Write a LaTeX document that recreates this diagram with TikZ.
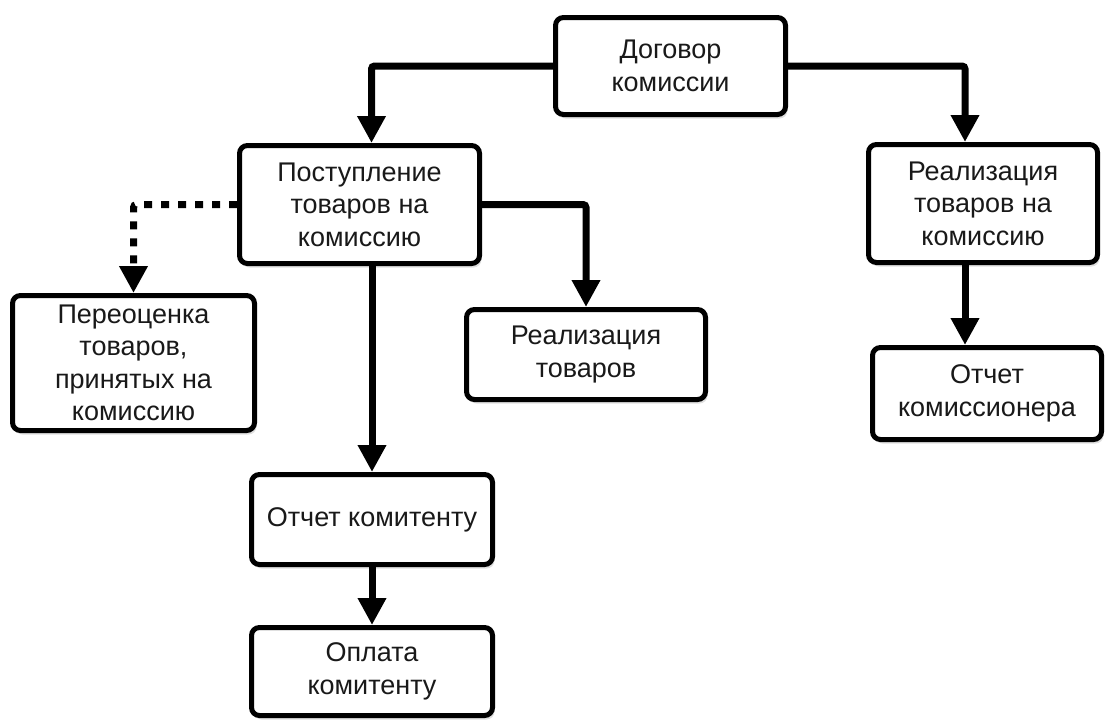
\documentclass[tikz,border=0pt]{standalone}
\usepackage{fontspec}
\setmainfont{Liberation Sans}
\usetikzlibrary{arrows.meta,shadows}

\begin{document}
\begin{tikzpicture}[x=1pt, y=-1pt,
  every node/.style={font=\fontsize{27}{32.5}\selectfont, text=black!90},
  box/.style={draw, line width=5pt, rounded corners=8pt, fill=white, align=center, inner sep=0pt,
    drop shadow={shadow xshift=2pt, shadow yshift=-4pt, fill=black!25}},
  conn/.style={line width=7pt, rounded corners=3pt, -{Triangle[width=27pt,length=27pt]}},
  dotconn/.style={conn, dash pattern=on 8pt off 9pt}]
  \useasboundingbox (0,0) rectangle (1107,720);

  \node[box, minimum width=230, minimum height=97] (dogovor) at (670.5,66) {Договор\\комиссии};
  \node[box, minimum width=240, minimum height=118] (postup) at (359.5,204.5) {Поступление\\товаров на\\комиссию};
  \node[box, minimum width=229, minimum height=118] (realkom) at (983,203.5) {Реализация\\товаров на\\комиссию};
  \node[box, minimum width=242, minimum height=135] (pereoc) at (133.5,363) {Переоценка\\товаров,\\принятых на\\комиссию};
  \node[box, minimum width=239, minimum height=90] (realtov) at (586,354.5) {Реализация\\товаров};
  \node[box, minimum width=229, minimum height=92] (otchkomis) at (987,393.5) {Отчет\\комиссионера};
  \node[box, minimum width=241, minimum height=90] (otchkomit) at (372,519.5) {Отчет комитенту};
  \node[box, minimum width=241, minimum height=88] (oplata) at (372,671.5) {Оплата\\комитенту};

  % from the contract
  \draw[conn] (dogovor.west) -| ([xshift=12pt]postup.north);
  \draw[conn] (dogovor.east) -| ([xshift=-18pt]realkom.north);

  % receipt branch
  \draw[conn] (postup.east) -| (realtov.north);
  \draw[dotconn] (postup.west) -| (pereoc.north);
  \draw[conn] (otchkomit.north |- postup.south) -- (otchkomit.north);
  \draw[conn] (otchkomit.south) -- (oplata.north);

  % sale branch
  \draw[conn] ([xshift=-18pt]realkom.south) -- ([xshift=-18pt]realkom.south |- otchkomis.north);
\end{tikzpicture}
\end{document}
